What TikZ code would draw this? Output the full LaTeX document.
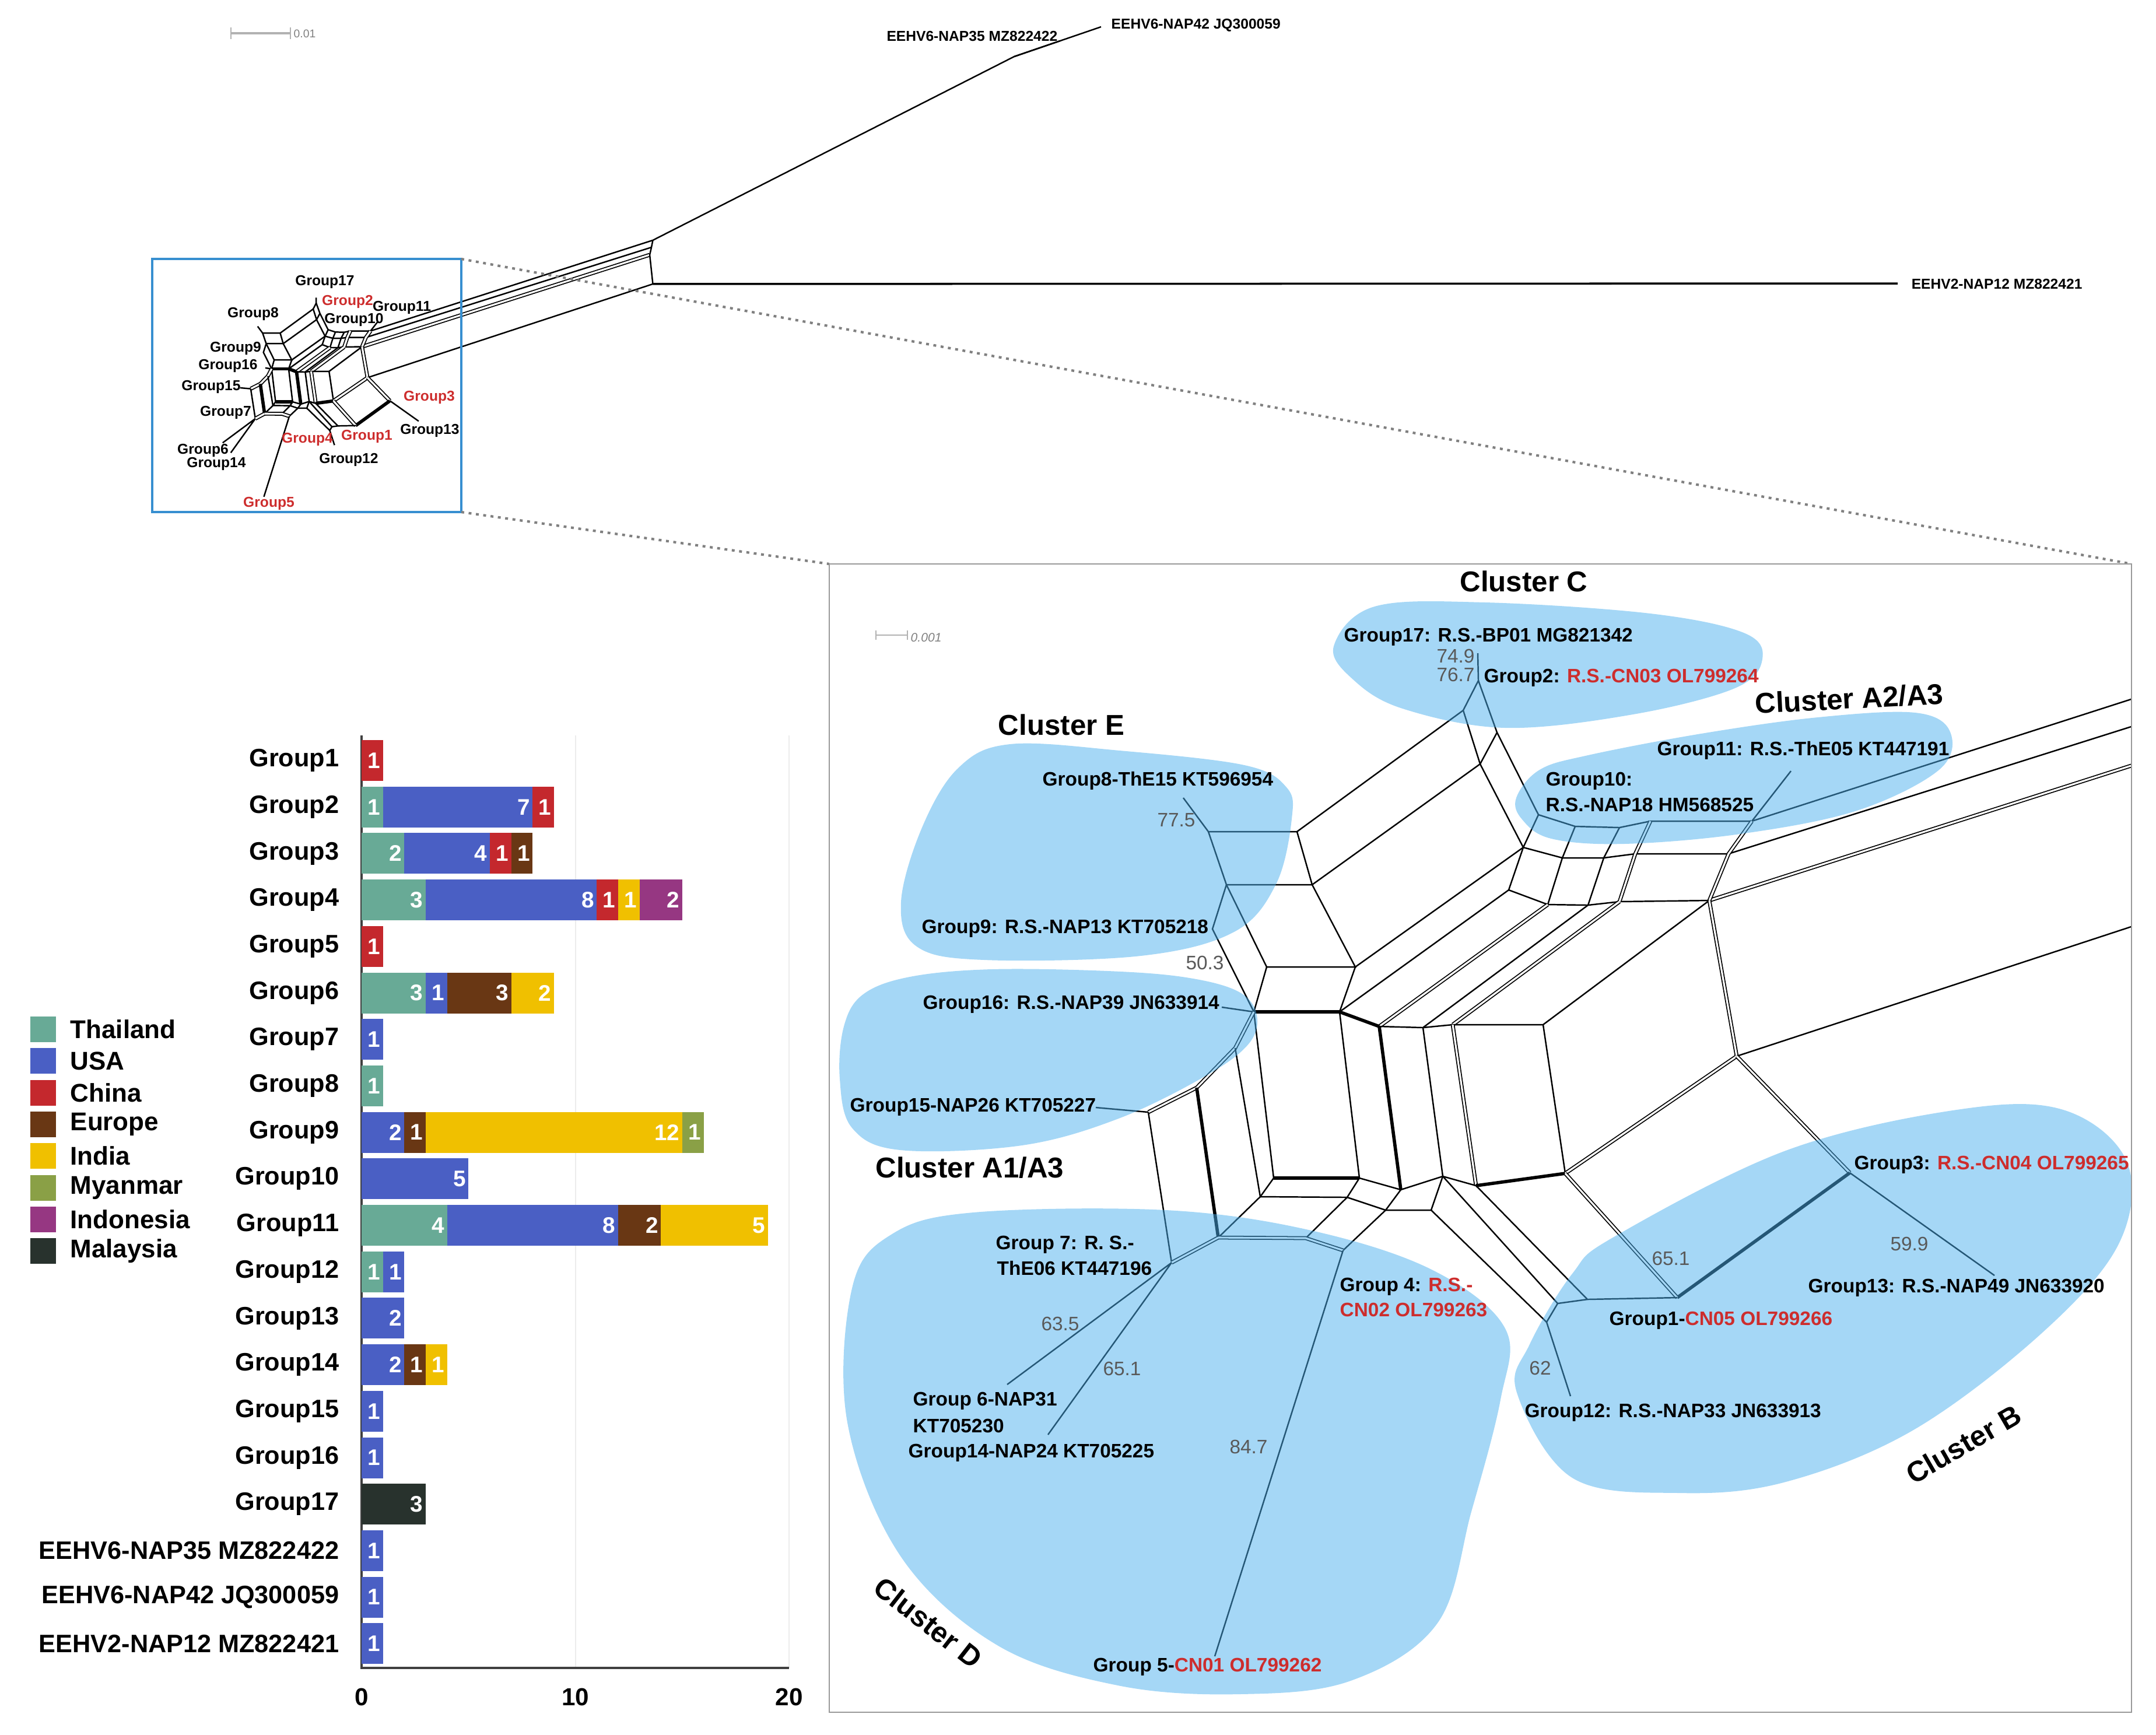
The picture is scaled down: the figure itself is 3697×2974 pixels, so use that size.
\documentclass[tikz,border=0pt]{standalone}
\usepackage{fontspec}
\setmainfont{Liberation Sans}

\definecolor{thaicol}{RGB}{104,170,150}
\definecolor{usacol}{RGB}{74,95,196}
\definecolor{chinacol}{RGB}{196,40,45}
\definecolor{eurocol}{RGB}{105,55,20}
\definecolor{indiacol}{RGB}{240,192,0}
\definecolor{myancol}{RGB}{138,160,70}
\definecolor{indocol}{RGB}{150,55,130}
\definecolor{malaycol}{RGB}{40,50,45}
\definecolor{cnred}{RGB}{205,45,45}
\definecolor{blob}{RGB}{75,175,237}
\definecolor{boxblue}{RGB}{55,143,208}

\tikzset{
  net/.style={line width=0.7pt},
  bund/.style={line width=1.6pt},
  dbl/.style={double, double distance=0.9pt, line width=0.5pt},
  lab/.style={font=\fontsize{9.5}{11}\selectfont\bfseries, inner sep=0pt, anchor=west},
  boot/.style={font=\fontsize{9.5}{11}\selectfont, text=black!65, inner sep=0pt},
  clus/.style={font=\fontsize{14}{16}\selectfont\bfseries, inner sep=0pt},
  tlab/.style={font=\fontsize{7}{8}\selectfont\bfseries, inner sep=0pt},
  toplab/.style={font=\fontsize{7}{8}\selectfont\bfseries, inner sep=0pt},
  rowlab/.style={font=\fontsize{12.3}{14}\selectfont\bfseries, anchor=east, inner sep=0pt},
  barnum/.style={font=\fontsize{11}{13}\selectfont\bfseries, text=white, anchor=east, inner sep=0pt},
  leglab/.style={font=\fontsize{12.5}{14}\selectfont\bfseries, anchor=west, inner sep=0pt},
  cluster/.style={fill=blob, fill opacity=0.5},
  zoomline/.style={gray, line width=1.2pt, dash pattern=on 1.4pt off 2.2pt},
}

% split network, drawn in the coordinates of the enlarged panel
\newcommand{\netlines}{%
  \foreach \n/\x/\y in {g17/2534/1120, g2n/2535/1167, c1/2509/1218, c2/2538/1310, c3/2567/1256,
    g8/2029/1368, e1/2072/1426, e2/2224/1426, e3/2103/1517, e4/2250/1517, g9/2079/1593,
    e5/2172/1658, e6/2324/1658, e7/2150/1735, e8/2297/1735,
    s1/2638/1397, s2/2612/1453, s3/2587/1526,
    r1a/2701/1417, r1b/2777/1419, r1c/2830/1408, r1d/3004/1408,
    r2a/2679/1471, r2b/2750/1471, r2c/2804/1464, r2d/2964/1464,
    r3a/2654/1551, r3b/2723/1552, r3c/2777/1546, r3d/2931/1544, g11/3071/1322,
    m1/2365/1760, m2/2440/1762, m3/2491/1757, m4/2646/1757,
    b1/2184/2020, b2/2331/2020, b3/2402/2040, b4/2474/2017, b5/2531/2033, b6/2684/2012,
    g16/2095/1727, l1/2118/1797, l2/2052/1865, l3/1969/1907, g15/1879/1899,
    k1/2161/2052, k2/2089/2122, k3/2009/2165,
    j1/2310/2053, j2/2376/2075, j3/2454/2075, n1/2239/2123, n2/2303/2144,
    g6/1727/2374, g14/1797/2460, g5/2083/2840,
    u1/2671/2235, u2/2722/2228, g12n/2652/2267, g12/2693/2394, g1/2876/2225,
    q/2978/1811, g3/3172/2011, g13/3420/2187,
    J1/5443/624, J2/5431/685, J3/5416/750, J4/5443/1002}
    {\coordinate (\n) at (\x,\y);}
  % cluster C and E
  \draw[net] (g17) -- (g2n) -- (c1) -- (c2) -- (s2) -- (s3);
  \draw[net] (g2n) -- (c3) -- (s1) -- (s2);
  \draw[net] (c2) -- (c3);
  \draw[net] (g8) -- (e1) -- (e2) -- (e4) -- (e3) -- (e1);
  \draw[net] (e3) -- (g9) -- (e7);
  \draw[net] (e3) -- (e5) -- (e6) -- (e4);
  \draw[net] (e5) -- (e7);
  \draw[net] (e6) -- (e8);
  \draw[bund] (e7) -- (e8);
  \draw[net] (e2) -- (c1) (e4) -- (c2) (e6) -- (s2) (e8) -- (s3);
  % rows towards the outgroups
  \draw[net] (s1) -- (r1a) -- (r1b) -- (r1c) -- (r1d) -- (J1);
  \draw[net] (s2) -- (r2a) -- (r2b) -- (r2c) -- (r2d) -- (J2);
  \draw[net] (s3) -- (r3a) -- (r3b) -- (r3c) -- (r3d);
  \draw[dbl] (r3d) -- (J3);
  \draw[net] (r1a) -- (r2a) -- (r3a);
  \draw[net] (r1b) -- (r2b) -- (r3b);
  \draw[dbl] (r1c) -- (r2c) -- (r3c);
  \draw[dbl] (r1d) -- (r2d) -- (r3d);
  \draw[net] (g11) -- (r1d);
  % central block
  \draw[dbl] (r3a) -- (m1);
  \draw[net] (r3b) -- (m2);
  \draw[dbl] (r3c) -- (m3);
  \draw[net] (r3d) -- (m4);
  \draw[bund] (e8) -- (m1);
  \draw[net] (m1) -- (m2) -- (m3) -- (m4);
  \draw[net] (e7) -- (b1) (e8) -- (b2) (m2) -- (b4) (m4) -- (b6);
  \draw[bund] (m1) -- (b3);
  \draw[dbl] (m3) -- (b5);
  \draw[bund] (b1) -- (b2);
  \draw[net] (b2) -- (b3) -- (b4) -- (b5);
  \draw[bund] (b5) -- (b6);
  % cluster B side
  \draw[dbl] (b6) -- (q) -- (r3d);
  \draw[net] (q) -- (J4);
  \draw[dbl] (q) -- (g3);
  \draw[bund] (g3) -- (g1);
  \draw[net] (g3) -- (g13);
  \draw[dbl] (b6) -- (g1);
  \draw[net] (b5) -- (u2) (b4) -- (u1) (j3) -- (g12n);
  \draw[net] (g12n) -- (u1) -- (u2) -- (g1);
  \draw[net] (g12n) -- (g12);
  % cluster A1/A3 and D side
  \draw[net] (g16) -- (e7);
  \draw[dbl] (e7) -- (l1) -- (l2) -- (l3);
  \draw[net] (l3) -- (g15);
  \draw[net] (l1) -- (k1) (l3) -- (k3);
  \draw[bund] (l2) -- (k2);
  \draw[net] (b1) -- (k1) -- (k2);
  \draw[dbl] (k2) -- (k3);
  \draw[net] (k1) -- (j1) -- (j2) -- (j3);
  \draw[net] (b2) -- (j1) (b3) -- (j2) (b4) -- (j3);
  \draw[net] (j1) -- (n1) (j2) -- (n2);
  \draw[dbl] (k2) -- (n1) -- (n2);
  \draw[net] (k3) -- (g6) (k3) -- (g14) (n2) -- (g5);
  \draw[net] (J1) -- (J2) -- (J3) -- (J4);
}

\begin{document}
\begin{tikzpicture}[x=0.01cm, y=-0.01cm]
\useasboundingbox (0,0) rectangle (3697,2974);

% Whole network (overview)
\draw[gray!60, line width=1pt] (396,57) -- (498,57);
\draw[gray!60, line width=0.8pt] (396,47) -- (396,67) (498,47) -- (498,67);
\node[font=\fontsize{5.5}{6}\selectfont, text=gray, anchor=west, inner sep=0pt] (sc1) at (503,58) {0.01};

\begin{scope}[shift={(412,665)}, scale=0.1985, shift={(-1879,-1899)}]
  \netlines
\end{scope}
\coordinate (fork6) at (1739,97);
\coordinate (end35) at (1818,70);
\coordinate (end42) at (1888,46);
\coordinate (end2) at (3254,486);
\draw[net] (J1) -- (fork6) -- (end42);
\draw[net] (fork6) -- (end35);
\draw[line width=1pt] (J4) -- (end2);
\node[toplab, anchor=east] (eehv35) at (1814,62) {EEHV6-NAP35 MZ822422};
\node[toplab, anchor=west] (eehv42) at (1905,43) {EEHV6-NAP42 JQ300059};
\node[toplab, anchor=west] (eehv2) at (3277,487) {EEHV2-NAP12 MZ822421};

\foreach \n/\x/\y/\t/\c in {ov17/557/483/Group17/black, ov2/596/517/Group2/cnred,
    ov11/689/527/Group11/black, ov8/434/538/Group8/black, ov10/607/548/Group10/black,
    ov9/404/597/Group9/black, ov16/391/627/Group16/black, ov15/362/663/Group15/black,
    ov3/736/681/Group3/cnred, ov7/387/707/Group7/black, ov13/737/738/Group13/black,
    ov4/527/753/Group4/cnred, ov1/629/748/Group1/cnred, ov6/348/772/Group6/black,
    ov14/371/795/Group14/black, ov12/598/788/Group12/black, ov5/461/863/Group5/cnred}
  \node[tlab, text=\c] (\n) at (\x,\y) {\t};

% zoom frames
\coordinate (tbnw) at (261,444);
\coordinate (tbne) at (791,444);
\coordinate (tbse) at (791,878);
\coordinate (bbnw) at (1422,967);
\coordinate (bbne) at (3655,967);
\coordinate (bbse) at (3655,2936);
\draw[boxblue, line width=1pt] (tbnw) rectangle (tbse);
\draw[zoomline] (tbne) -- (bbne);
\draw[zoomline] (tbse) -- (bbnw);

% Enlarged network
\begin{scope}
  \clip (bbnw) rectangle (bbse);
  \netlines
  \fill[cluster] plot[smooth cycle, tension=0.6] coordinates {(2287,1108) (2357,1040) (2547,1033) (2830,1052) (2990,1085) (3022,1130) (2975,1180) (2800,1225) (2581,1248) (2405,1215) (2320,1165)};
  \fill[cluster] plot[smooth cycle, tension=0.6] coordinates {(2600,1368) (2640,1320) (2723,1295) (2917,1258) (3117,1230) (3284,1222) (3344,1255) (3325,1320) (3184,1390) (2984,1430) (2784,1447) (2660,1438) (2610,1405)};
  \fill[cluster] plot[smooth cycle, tension=0.6] coordinates {(1643,1317) (1732,1276) (1920,1287) (2134,1312) (2206,1350) (2215,1404) (2188,1516) (2116,1598) (1956,1639) (1688,1646) (1572,1623) (1545,1547) (1581,1419)};
  \fill[cluster] plot[smooth cycle, tension=0.6] coordinates {(1447,1760) (1480,1705) (1560,1675) (1700,1662) (1900,1665) (2034,1676) (2123,1700) (2155,1740) (2141,1790) (2067,1845) (1918,1918) (1752,1964) (1544,1972) (1461,1934) (1440,1850)};
  \fill[cluster] plot[smooth cycle, tension=0.6] coordinates {(1528,2117) (1669,2079) (2000,2075) (2249,2110) (2457,2178) (2581,2278) (2573,2400) (2523,2592) (2465,2783) (2316,2882) (2125,2905) (1917,2890) (1710,2821) (1544,2668) (1453,2439) (1461,2209)};
  \fill[cluster] plot[smooth cycle, tension=0.6] coordinates {(2696,2184) (2769,2120) (3062,1973) (3355,1903) (3538,1903) (3647,1992) (3633,2133) (3501,2286) (3281,2452) (3062,2541) (2879,2560) (2696,2534) (2601,2388) (2623,2305)};
\end{scope}
\draw[gray!80, line width=0.8pt] (bbnw) rectangle (bbse);

% scale bar
\draw[gray!60, line width=0.7pt] (1502,1089) -- (1556,1089);
\draw[gray!60, line width=0.6pt] (1502,1081) -- (1502,1097) (1556,1081) -- (1556,1097);
\node[font=\fontsize{6}{7}\selectfont\itshape, text=gray, anchor=west, inner sep=0pt] (sc2) at (1561,1093) {0.001};

% Labels of the enlarged network
\node[clus] (clC) at (2613,997) {Cluster C};
\node[clus] (clE) at (1820,1243) {Cluster E};
\node[clus, rotate=3] (clA2) at (3171,1198) {Cluster A2/A3};
\node[clus] (clA1) at (1663,2002) {Cluster A1/A3};
\node[clus, rotate=-38] (clD) at (1592,2782) {Cluster D};
\node[clus, rotate=30] (clB) at (3367,2476) {Cluster B};

\node[lab] (lab17) at (2304,1092) {Group17: R.S.-BP01 MG821342};
\node[lab] (lab2) at (2544,1162) {Group2: \textcolor{cnred}{R.S.-CN03 OL799264}};
\node[boot] (bs749) at (2496,1125) {74.9};
\node[boot] (bs767) at (2496,1157) {76.7};
\node[lab] (lab8) at (1787,1339) {Group8-ThE15 KT596954};
\node[boot] (bs775) at (2017,1406) {77.5};
\node[lab] (lab9) at (1580,1592) {Group9: R.S.-NAP13 KT705218};
\node[boot] (bs503) at (2066,1651) {50.3};
\node[lab] (lab16) at (1582,1722) {Group16: R.S.-NAP39 JN633914};
\node[lab] (lab15) at (1457,1898) {Group15-NAP26 KT705227};
\node[lab] (lab11) at (2841,1287) {Group11: R.S.-ThE05 KT447191};
\node[lab] (lab10a) at (2650,1339) {Group10:};
\node[lab] (lab10b) at (2650,1380) {R.S.-NAP18 HM568525};
\node[lab] (lab7a) at (1707,2134) {Group 7: R. S.-};
\node[lab] (lab7b) at (1709,2175) {ThE06 KT447196};
\node[boot] (bs635) at (1818,2270) {63.5};
\node[boot] (bs651a) at (1924,2347) {65.1};
\node[lab] (lab6a) at (1565,2402) {Group 6-NAP31};
\node[lab] (lab6b) at (1565,2445) {KT705230};
\node[lab] (lab14) at (1557,2491) {Group14-NAP24 KT705225};
\node[lab] (lab4a) at (2297,2206) {Group 4: \textcolor{cnred}{R.S.-}};
\node[lab, text=cnred] (lab4b) at (2297,2246) {CN02 OL799263};
\node[boot] (bs847) at (2141,2481) {84.7};
\node[lab] (lab5) at (1874,2858) {Group 5-\textcolor{cnred}{CN01 OL799262}};
\node[lab] (lab3) at (3179,1997) {Group3: \textcolor{cnred}{R.S.-CN04 OL799265}};
\node[boot] (bs599) at (3274,2133) {59.9};
\node[lab] (lab13) at (3100,2208) {Group13: R.S.-NAP49 JN633920};
\node[boot] (bs651b) at (2865,2158) {65.1};
\node[lab] (lab1) at (2759,2264) {Group1-\textcolor{cnred}{CN05 OL799266}};
\node[boot] (bs62) at (2641,2346) {62};
\node[lab] (lab12) at (2614,2422) {Group12: R.S.-NAP33 JN633913};

% Bar chart: grid and axes
\draw[gray!15, line width=0.6pt] (987,1261) -- (987,2860) (1353,1261) -- (1353,2860);
\draw[black!75, line width=0.9pt] (620,1261) -- (620,2860) -- (1353,2860);
\foreach \v in {0,10,20}
  \node[font=\fontsize{12}{14}\selectfont\bfseries, inner sep=0pt] (tick\v) at ({620+\v*36.67},2910) {\v};

% Bars
\foreach \r/\name in {1/Group1, 2/Group2, 3/Group3, 4/Group4, 5/Group5, 6/Group6, 7/Group7,
    8/Group8, 9/Group9, 10/Group10, 11/Group11, 12/Group12, 13/Group13, 14/Group14,
    15/Group15, 16/Group16, 17/Group17, 18/EEHV6-NAP35 MZ822422,
    19/EEHV6-NAP42 JQ300059, 20/EEHV2-NAP12 MZ822421}
  \node[rowlab] (row\r) at (582,{1304+(\r-1)*79.7}) {\name};

\foreach \r/\c/\a/\b in {1/chinacol/0/1,
    2/thaicol/0/1, 2/usacol/1/8, 2/chinacol/8/9,
    3/thaicol/0/2, 3/usacol/2/6, 3/chinacol/6/7, 3/eurocol/7/8,
    4/thaicol/0/3, 4/usacol/3/11, 4/chinacol/11/12, 4/indiacol/12/13, 4/indocol/13/15,
    5/chinacol/0/1,
    6/thaicol/0/3, 6/usacol/3/4, 6/eurocol/4/7, 6/indiacol/7/9,
    7/usacol/0/1, 8/thaicol/0/1,
    9/usacol/0/2, 9/eurocol/2/3, 9/indiacol/3/15, 9/myancol/15/16,
    10/usacol/0/5,
    11/thaicol/0/4, 11/usacol/4/12, 11/eurocol/12/14, 11/indiacol/14/19,
    12/thaicol/0/1, 12/usacol/1/2,
    13/usacol/0/2,
    14/usacol/0/2, 14/eurocol/2/3, 14/indiacol/3/4,
    15/usacol/0/1, 16/usacol/0/1, 17/malaycol/0/3,
    18/usacol/0/1, 19/usacol/0/1, 20/usacol/0/1}
{
  \pgfmathsetmacro\yc{1304+(\r-1)*79.7}
  \pgfmathtruncatemacro\cnt{\b-\a}
  \fill[\c] ({620+\a*36.67},{\yc-35}) rectangle ({620+\b*36.67},{\yc+35});
  \node[barnum] (bar\r-\a) at ({620+\b*36.67-4},\yc) {\cnt};
}

% Legend
\foreach \i/\c/\name in {0/thaicol/Thailand, 1/usacol/USA, 2/chinacol/China, 3/eurocol/Europe,
    4/indiacol/India, 5/myancol/Myanmar, 6/indocol/Indonesia, 7/malaycol/Malaysia}
{
  \fill[\c] (52,{1743+\i*54.3}) rectangle (96,{1787+\i*54.3});
  \node[leglab] (leg\i) at (120,{1765+\i*54.3}) {\name};
}
\end{tikzpicture}
\end{document}
